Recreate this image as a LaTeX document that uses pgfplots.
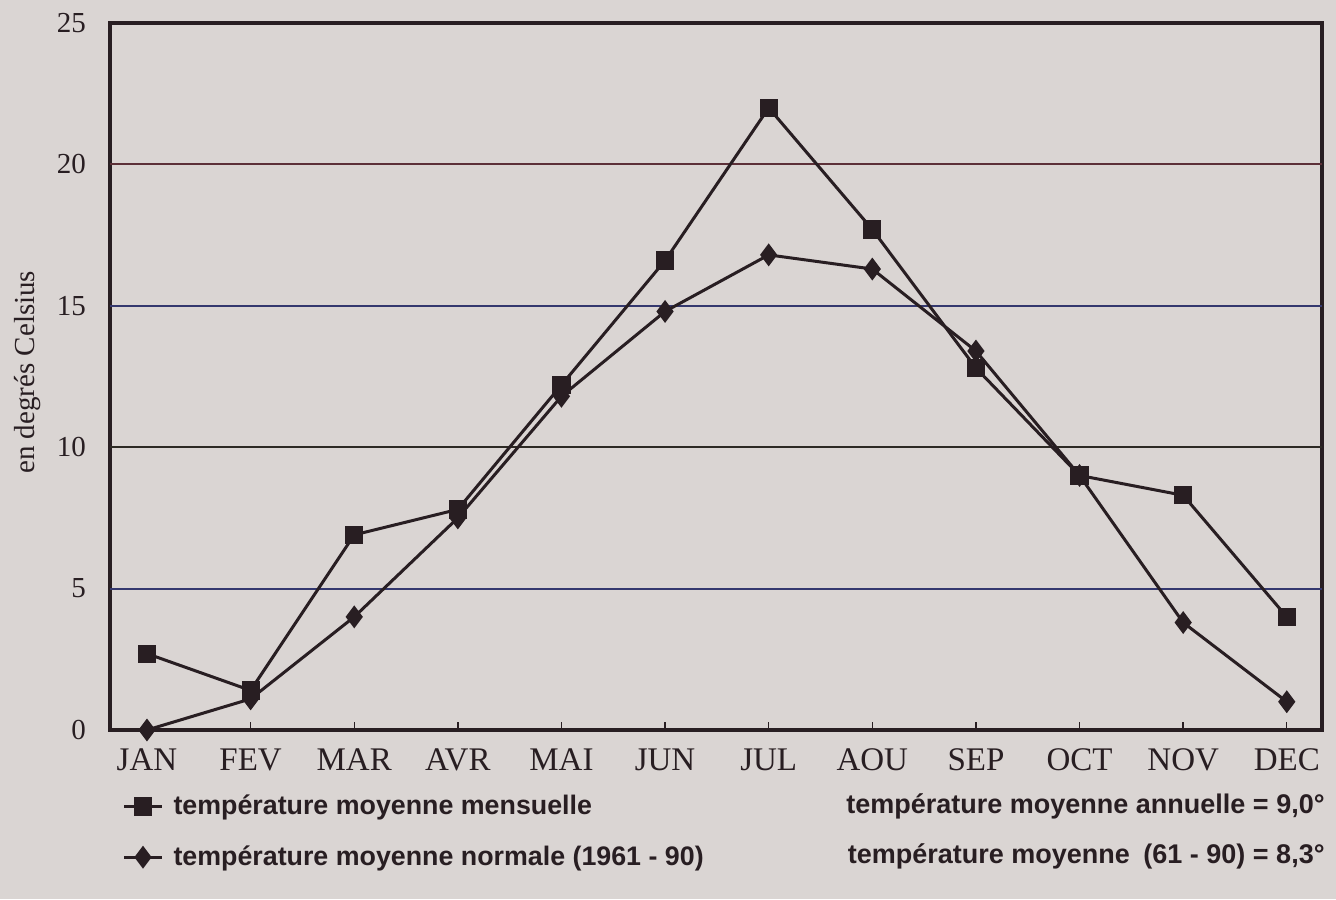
\documentclass[border=0pt]{standalone}
\usepackage{fontspec}
\setmainfont{Liberation Serif}
\newfontfamily\legendfont{Liberation Sans}
\usepackage{pgfplots}
\pgfplotsset{compat=1.18}
\definecolor{bgcol}{RGB}{218,213,211}
\definecolor{ink}{RGB}{40,30,34}
\definecolor{gridA}{RGB}{92,48,56}
\definecolor{gridB}{RGB}{52,56,110}
\definecolor{gridC}{RGB}{45,42,36}
\begin{document}
\begin{tikzpicture}
\fill[bgcol,use as bounding box] (0,0) rectangle (668pt,449.5pt);
\begin{axis}[
  at={(55pt,84.5pt)}, anchor=south west,
  scale only axis, width=606pt, height=353.5pt,
  xmin=-0.357, xmax=11.34, ymin=0, ymax=25,
  xtick={0,...,11},
  xticklabels={JAN,FEV,MAR,AVR,MAI,JUN,JUL,AOU,SEP,OCT,NOV,DEC},
  ytick={0,5,10,15,20,25},
  xtick pos=bottom, ytick pos=left,
  tick align=inside, major tick length=4pt,
  tick style={ink, line width=0.7pt},
  axis line style={ink, line width=1.6pt},
  tick label style={text=ink},
  xticklabel style={font=\fontsize{16.5}{18}\selectfont, yshift=-6pt},
  yticklabel style={font=\fontsize{14.5}{16}\selectfont, xshift=-8.5pt},
  /pgf/number format/assume math mode=true,
  ylabel={en degrés Celsius},
  ylabel style={font=\fontsize{14.5}{16}\selectfont, text=ink, at={(axis description cs:-0.068,0.506)}, anchor=center, rotate=0},
  legend style={draw=none, fill=none, at={(axis description cs:0.010,-0.086)}, anchor=north west,
    font=\legendfont\bfseries\fontsize{13.4}{15}\selectfont, text=ink, row sep=10pt, column sep=3pt, inner sep=0pt},
  legend cell align=left,
  legend image code/.code={\draw[mark repeat=2,mark phase=2,#1] plot coordinates {(0pt,0pt) (9.5pt,0pt) (19pt,0pt)};},
]
\draw[gridA, line width=0.9pt] (rel axis cs:0,0.8) -- (rel axis cs:1,0.8);
\draw[gridB, line width=0.9pt] (rel axis cs:0,0.6) -- (rel axis cs:1,0.6);
\draw[gridC, line width=0.9pt] (rel axis cs:0,0.4) -- (rel axis cs:1,0.4);
\draw[gridB, line width=0.9pt] (rel axis cs:0,0.2) -- (rel axis cs:1,0.2);
\addplot[ink, line width=1.5pt, mark=square*, mark size=3.8pt, mark options={solid, fill=ink}]
coordinates {(0,2.7) (1,1.4) (2,6.9) (3,7.8) (4,12.2) (5,16.6) (6,22.0) (7,17.7) (8,12.8) (9,9.0) (10,8.3) (11,4.0)};
\addlegendentry{température moyenne mensuelle}
\addplot[ink, line width=1.5pt, mark=diamond*, mark size=4.5pt, mark options={solid, fill=ink}]
coordinates {(0,0.0) (1,1.1) (2,4.0) (3,7.5) (4,11.8) (5,14.8) (6,16.8) (7,16.3) (8,13.4) (9,9.0) (10,3.8) (11,1.0)};
\addlegendentry{température moyenne normale (1961 - 90)}
\end{axis}
\node[anchor=east, text=ink, inner sep=0pt, font=\legendfont\bfseries\fontsize{13.5}{15}\selectfont] at (662.5pt,46.5pt) {température moyenne annuelle = 9,0°};
\node[anchor=east, text=ink, inner sep=0pt, font=\legendfont\bfseries\fontsize{13.5}{15}\selectfont] at (662.5pt,21.5pt) {température moyenne\enspace(61 - 90) = 8,3°};
\end{tikzpicture}
\end{document}
